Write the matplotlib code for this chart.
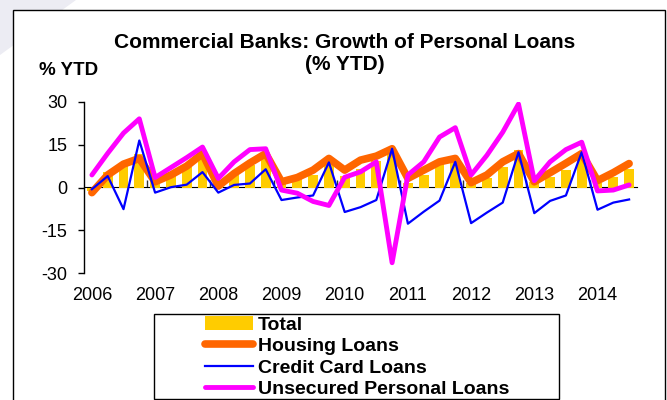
import numpy as np
import matplotlib
matplotlib.use("Agg")
import matplotlib.pyplot as plt
from matplotlib.patches import Rectangle, Polygon

plt.rcParams['font.family'] = ['Liberation Sans', 'DejaVu Sans']
plt.rcParams['axes.unicode_minus'] = False

# quarterly data, 2006Q1 .. 2014Q3 (% YTD)
years = ['2006', '2007', '2008', '2009', '2010', '2011', '2012', '2013', '2014']
total = [-1.2, 5.5, 8.0, 11.9, 3.0, 4.9, 7.2, 11.3,
         1.5, 4.5, 8.0, 11.5, 1.5, 3.0, 4.4, 9.0,
         4.0, 6.5, 9.2, 13.0, 1.5, 4.4, 8.2, 10.2,
         1.7, 3.2, 7.2, 13.3, 2.0, 3.7, 6.1, 12.5,
         1.5, 3.7, 6.6]
housing = [-1.8, 4.4, 8.2, 10.2, 2.0, 4.4, 7.5, 11.9,
           0.5, 4.9, 8.6, 11.9, 2.0, 3.5, 6.1, 10.2,
           6.1, 9.6, 11.0, 13.6, 3.2, 6.1, 9.0, 10.2,
           1.7, 4.4, 9.0, 11.9, 2.0, 5.2, 8.5, 11.9,
           2.4, 5.2, 8.4]
credit = [-0.6, 4.0, -7.6, 16.5, -1.8, 0.1, 1.0, 5.4,
          -1.8, 0.9, 1.4, 6.4, -4.4, -3.5, -2.8, 8.8,
          -8.6, -6.9, -4.4, 13.6, -12.7, -8.5, -4.6, 9.0,
          -12.5, -8.8, -5.3, 12.4, -9.0, -4.7, -2.8, 12.4,
          -7.8, -5.3, -4.2]
unsecured = [4.4, 12.0, 19.1, 24.1, 3.5, 7.0, 10.5, 14.2,
             3.2, 9.0, 13.3, 13.6, -0.9, -2.0, -4.9, -6.3,
             3.6, 5.5, 9.0, -26.4, 4.4, 9.0, 17.7, 21.0,
             4.4, 11.3, 19.4, 29.3, 2.4, 9.0, 13.3, 15.9,
             -1.2, -0.9, 0.9]

x = np.arange(len(total))
W, H = 667, 400

fig = plt.figure(figsize=(W / 100, H / 100), dpi=100)

# slide background corner + chart frame
fig.patches.append(Polygon([(0, 1), (76 / W, 1), (0, 1 - 55 / H)], closed=True,
                           transform=fig.transFigure, facecolor='#ECECF3',
                           edgecolor='none', zorder=-3))
fig.patches.append(Rectangle((13.5 / W, -0.02), (665 - 13.5) / W, 1.02 - 9.5 / H,
                             transform=fig.transFigure, facecolor='white',
                             edgecolor='black', linewidth=1.0, zorder=-2))

ax = fig.add_axes([84 / W, 1 - 273 / H, 553 / W, 171 / H])
ax.set_facecolor('none')
ax.set_zorder(1)

b = ax.bar(x, total, width=0.62, color='#FFCC00', label='Total', zorder=2)
l1, = ax.plot(x, housing, color='#FF6600', linewidth=5.5, solid_capstyle='round',
              solid_joinstyle='round', label='Housing Loans', zorder=3)
l2, = ax.plot(x, credit, color='#0000FF', linewidth=1.6, label='Credit Card Loans', zorder=4)
l3, = ax.plot(x, unsecured, color='#FF00FF', linewidth=3.5, solid_capstyle='round',
              label='Unsecured Personal Loans', zorder=5)

ax.set_xlim(-0.5, len(total) - 0.5)
ax.set_ylim(-30, 30)
ax.set_yticks([30, 15, 0, -15, -30])
ax.tick_params(axis='y', direction='out', length=4, width=1, labelsize=13, pad=8)
ax.set_xticks(x[::4])
ax.set_xticklabels(years)
ax.tick_params(axis='x', length=0, labelsize=13, pad=10)
for s in ['top', 'right', 'bottom']:
    ax.spines[s].set_visible(False)
ax.spines['left'].set_linewidth(1)

# category axis crossing at zero
zax = ax.secondary_xaxis(0.5)
zax.set_xticks(np.arange(3.5, len(total) - 1, 4))
zax.set_xticklabels([])
zax.tick_params(direction='out', length=5, width=1, color='#333333')
zax.spines['bottom'].set_color('#555555')
zax.spines['bottom'].set_linewidth(1.2)

fig.text(345 / W, 1 - 43 / H, 'Commercial Banks: Growth of Personal Loans',
         ha='center', va='center', fontsize=15, fontweight='bold')
fig.text(345 / W, 1 - 64 / H, '(% YTD)',
         ha='center', va='center', fontsize=15, fontweight='bold')
fig.text(39 / W, 1 - 70.5 / H, '% YTD', ha='left', va='center',
         fontsize=13.5, fontweight='bold')

# legend box
fig.patches.append(Rectangle((153.5 / W, 1 - 398.6 / H), 405.5 / W, 85.1 / H,
                             transform=fig.transFigure, facecolor='white',
                             edgecolor='black', linewidth=1.0, zorder=2))
leg = fig.legend([b, l1, l2, l3],
                 ['Total', 'Housing Loans', 'Credit Card Loans', 'Unsecured Personal Loans'],
                 loc='upper left', bbox_to_anchor=(205 / W, 1 - 316 / H),
                 frameon=False, prop={'weight': 'bold', 'size': 14},
                 handlelength=2.45, handletextpad=0.25, labelspacing=0.2,
                 borderpad=0, borderaxespad=0)
leg.set_zorder(3)

fig.savefig('out.png', dpi=100)
